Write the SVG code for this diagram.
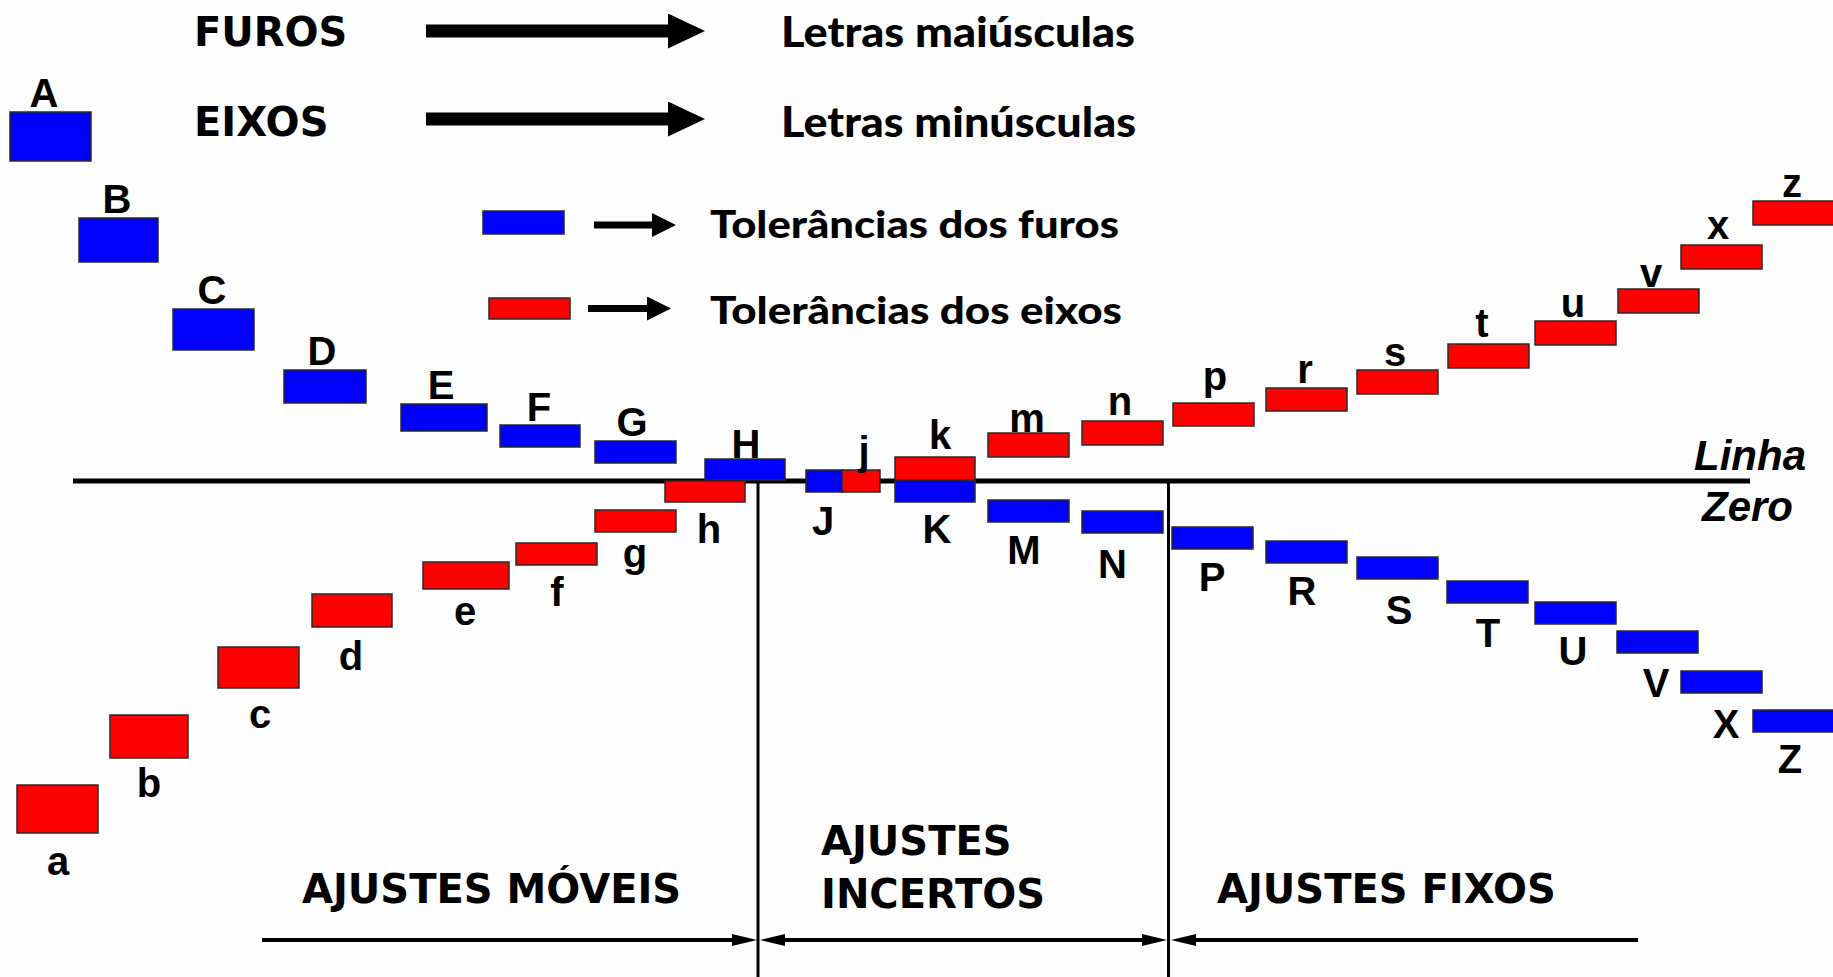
<svg xmlns="http://www.w3.org/2000/svg" width="1833" height="977" viewBox="0 0 1833 977">
<style>
.hole{fill:#0000FF;stroke:#2a2a2a;stroke-width:1.5}
.shaft{fill:#FF0000;stroke:#2a2a2a;stroke-width:1.5}
.lbl{font-family:"Liberation Sans",Arial,sans-serif;font-weight:bold;font-size:40px;fill:#000;text-anchor:middle}
.hdr{font-family:"DejaVu Sans",sans-serif;font-weight:bold;font-size:40px;fill:#000}
.gill{font-family:Lato,"Open Sans",sans-serif;font-weight:900;fill:#000}
.lz{font-family:"Liberation Sans",Arial,sans-serif;font-weight:bold;font-style:italic;font-size:42px;fill:#000}
.big{stroke:#000;stroke-width:13;fill:none}
.leg{stroke:#000;stroke-width:7;fill:none}
.dim{stroke:#000;stroke-width:4;fill:none}
.ref{stroke:#000;fill:none}
</style>
<defs>
<marker id="headBig" markerUnits="userSpaceOnUse" markerWidth="37" markerHeight="35" refX="0" refY="17.5" orient="auto" viewBox="0 0 37 35"><path d="M0,0 L37,17.5 L0,35 z" fill="#000"/></marker>
<marker id="headLeg" markerUnits="userSpaceOnUse" markerWidth="24" markerHeight="24" refX="0" refY="12" orient="auto" viewBox="0 0 24 24"><path d="M0,0 L24,12 L0,24 z" fill="#000"/></marker>
<marker id="headDim" markerUnits="userSpaceOnUse" markerWidth="25" markerHeight="12" refX="0" refY="6" orient="auto-start-reverse" viewBox="0 0 25 12"><path d="M0,0 L25,6 L0,12 z" fill="#000"/></marker>
</defs>
<rect x="0" y="0" width="1833" height="977" fill="#fdfdfd"/>

<g id="titles">
<text class="hdr" x="194" y="46">FUROS</text>
<text class="hdr" x="194" y="136">EIXOS</text>
<text class="gill" x="781" y="47" font-size="42" textLength="354" lengthAdjust="spacingAndGlyphs">Letras maiúsculas</text>
<text class="gill" x="781" y="137" font-size="42" textLength="355" lengthAdjust="spacingAndGlyphs">Letras minúsculas</text>
<text class="gill" x="710" y="238" font-size="38" textLength="409" lengthAdjust="spacingAndGlyphs">Tolerâncias dos furos</text>
<text class="gill" x="710" y="324" font-size="38" textLength="412" lengthAdjust="spacingAndGlyphs">Tolerâncias dos eixos</text>
</g>

<g id="legend-hole"><rect class="hole" x="483" y="211" width="81" height="23"/></g>
<g id="legend-shaft"><rect class="shaft" x="489" y="298" width="81" height="21"/></g>

<g id="reference-lines">
<line class="ref" x1="73" y1="481" x2="1750" y2="481" stroke-width="5"/>
<line class="ref" x1="758" y1="481" x2="758" y2="977" stroke-width="3"/>
<line class="ref" x1="1168.5" y1="481" x2="1168.5" y2="977" stroke-width="3"/>
</g>

<g id="connectors">
<line class="big" x1="426" y1="31" x2="668" y2="31" marker-end="url(#headBig)"/>
<line class="big" x1="426" y1="119" x2="668" y2="119" marker-end="url(#headBig)"/>
<line class="leg" x1="594" y1="225" x2="652" y2="225" marker-end="url(#headLeg)"/>
<line class="leg" x1="588" y1="308.5" x2="647" y2="308.5" marker-end="url(#headLeg)"/>
<line class="dim" x1="262" y1="940" x2="732" y2="940" marker-end="url(#headDim)"/>
<line class="dim" x1="785" y1="940" x2="1142" y2="940" marker-start="url(#headDim)" marker-end="url(#headDim)"/>
<line class="dim" x1="1196" y1="940" x2="1638" y2="940" marker-start="url(#headDim)"/>
</g>

<g id="hole-A"><rect class="hole" x="10" y="112" width="81" height="49"/><text class="lbl" x="44" y="107">A</text></g>
<g id="hole-B"><rect class="hole" x="79" y="218" width="79" height="44"/><text class="lbl" x="117" y="212.5">B</text></g>
<g id="hole-C"><rect class="hole" x="173" y="309" width="81" height="41"/><text class="lbl" x="212" y="303.5">C</text></g>
<g id="hole-D"><rect class="hole" x="284" y="370" width="82" height="33"/><text class="lbl" x="322" y="365">D</text></g>
<g id="hole-E"><rect class="hole" x="401" y="404" width="86" height="27"/><text class="lbl" x="441" y="399">E</text></g>
<g id="hole-F"><rect class="hole" x="500" y="425" width="80" height="22"/><text class="lbl" x="539" y="420.5">F</text></g>
<g id="hole-G"><rect class="hole" x="595" y="441" width="81" height="22"/><text class="lbl" x="632" y="436">G</text></g>
<g id="hole-H"><rect class="hole" x="705" y="459" width="80" height="21"/><text class="lbl" x="746" y="458">H</text></g>
<g id="hole-J"><rect class="hole" x="806" y="470" width="37" height="22"/><text class="lbl" x="823" y="535">J</text></g>
<g id="hole-K"><rect class="hole" x="895" y="480" width="80" height="22"/><text class="lbl" x="937" y="542.5">K</text></g>
<g id="hole-M"><rect class="hole" x="988" y="500" width="81" height="22"/><text class="lbl" x="1024" y="564">M</text></g>
<g id="hole-N"><rect class="hole" x="1082" y="511" width="81" height="22"/><text class="lbl" x="1112.5" y="578">N</text></g>
<g id="hole-P"><rect class="hole" x="1172" y="527" width="81" height="22"/><text class="lbl" x="1212" y="591">P</text></g>
<g id="hole-R"><rect class="hole" x="1266" y="541" width="81" height="22"/><text class="lbl" x="1302" y="605">R</text></g>
<g id="hole-S"><rect class="hole" x="1357" y="557" width="81" height="22"/><text class="lbl" x="1399" y="624">S</text></g>
<g id="hole-T"><rect class="hole" x="1447" y="581" width="81" height="22"/><text class="lbl" x="1488" y="646.5">T</text></g>
<g id="hole-U"><rect class="hole" x="1535" y="602" width="81" height="22"/><text class="lbl" x="1573" y="665">U</text></g>
<g id="hole-V"><rect class="hole" x="1617" y="631" width="81" height="22"/><text class="lbl" x="1656" y="696.5">V</text></g>
<g id="hole-X"><rect class="hole" x="1681" y="671" width="81" height="22"/><text class="lbl" x="1726" y="737.5">X</text></g>
<g id="hole-Z"><rect class="hole" x="1753" y="710" width="81" height="22"/><text class="lbl" x="1790" y="772.5">Z</text></g>

<g id="shaft-a"><rect class="shaft" x="17" y="785" width="81" height="48"/><text class="lbl" x="58" y="875">a</text></g>
<g id="shaft-b"><rect class="shaft" x="110" y="715" width="78" height="43"/><text class="lbl" x="149" y="796.5">b</text></g>
<g id="shaft-c"><rect class="shaft" x="218" y="647" width="81" height="41"/><text class="lbl" x="260" y="728">c</text></g>
<g id="shaft-d"><rect class="shaft" x="312" y="594" width="80" height="33"/><text class="lbl" x="351" y="670">d</text></g>
<g id="shaft-e"><rect class="shaft" x="423" y="562" width="86" height="27"/><text class="lbl" x="465" y="625">e</text></g>
<g id="shaft-f"><rect class="shaft" x="516" y="543" width="81" height="22"/><text class="lbl" x="557" y="606">f</text></g>
<g id="shaft-g"><rect class="shaft" x="595" y="510" width="81" height="22"/><text class="lbl" x="635" y="566.5">g</text></g>
<g id="shaft-h"><rect class="shaft" x="665" y="481" width="80" height="21"/><text class="lbl" x="709" y="542.5">h</text></g>
<g id="shaft-j"><rect class="shaft" x="842" y="470" width="38" height="22"/><text class="lbl" x="864" y="465">j</text></g>
<g id="shaft-k"><rect class="shaft" x="895" y="457" width="80" height="23"/><text class="lbl" x="940" y="449">k</text></g>
<g id="shaft-m"><rect class="shaft" x="988" y="433" width="81" height="24"/><text class="lbl" x="1027" y="431.5">m</text></g>
<g id="shaft-n"><rect class="shaft" x="1082" y="421" width="81" height="24"/><text class="lbl" x="1120" y="415">n</text></g>
<g id="shaft-p"><rect class="shaft" x="1173" y="403" width="81" height="23"/><text class="lbl" x="1215" y="390">p</text></g>
<g id="shaft-r"><rect class="shaft" x="1266" y="388" width="81" height="23"/><text class="lbl" x="1305" y="383">r</text></g>
<g id="shaft-s"><rect class="shaft" x="1357" y="370" width="81" height="24"/><text class="lbl" x="1395" y="366">s</text></g>
<g id="shaft-t"><rect class="shaft" x="1448" y="344" width="81" height="24"/><text class="lbl" x="1482" y="337">t</text></g>
<g id="shaft-u"><rect class="shaft" x="1535" y="321" width="81" height="24"/><text class="lbl" x="1573" y="316.5">u</text></g>
<g id="shaft-v"><rect class="shaft" x="1618" y="289" width="81" height="24"/><text class="lbl" x="1651" y="286.5">v</text></g>
<g id="shaft-x"><rect class="shaft" x="1681" y="245" width="81" height="24"/><text class="lbl" x="1718" y="239">x</text></g>
<g id="shaft-z"><rect class="shaft" x="1753" y="201" width="81" height="24"/><text class="lbl" x="1792" y="196.5">z</text></g>

<g id="zero-label">
<text class="lz" x="1694" y="470">Linha</text>
<text class="lz" x="1702" y="521">Zero</text>
</g>

<g id="zones">
<text class="hdr" x="302" y="903">AJUSTES MÓVEIS</text>
<text class="hdr" x="821" y="855">AJUSTES</text>
<text class="hdr" x="821" y="908">INCERTOS</text>
<text class="hdr" x="1217" y="903">AJUSTES FIXOS</text>
</g>
</svg>
